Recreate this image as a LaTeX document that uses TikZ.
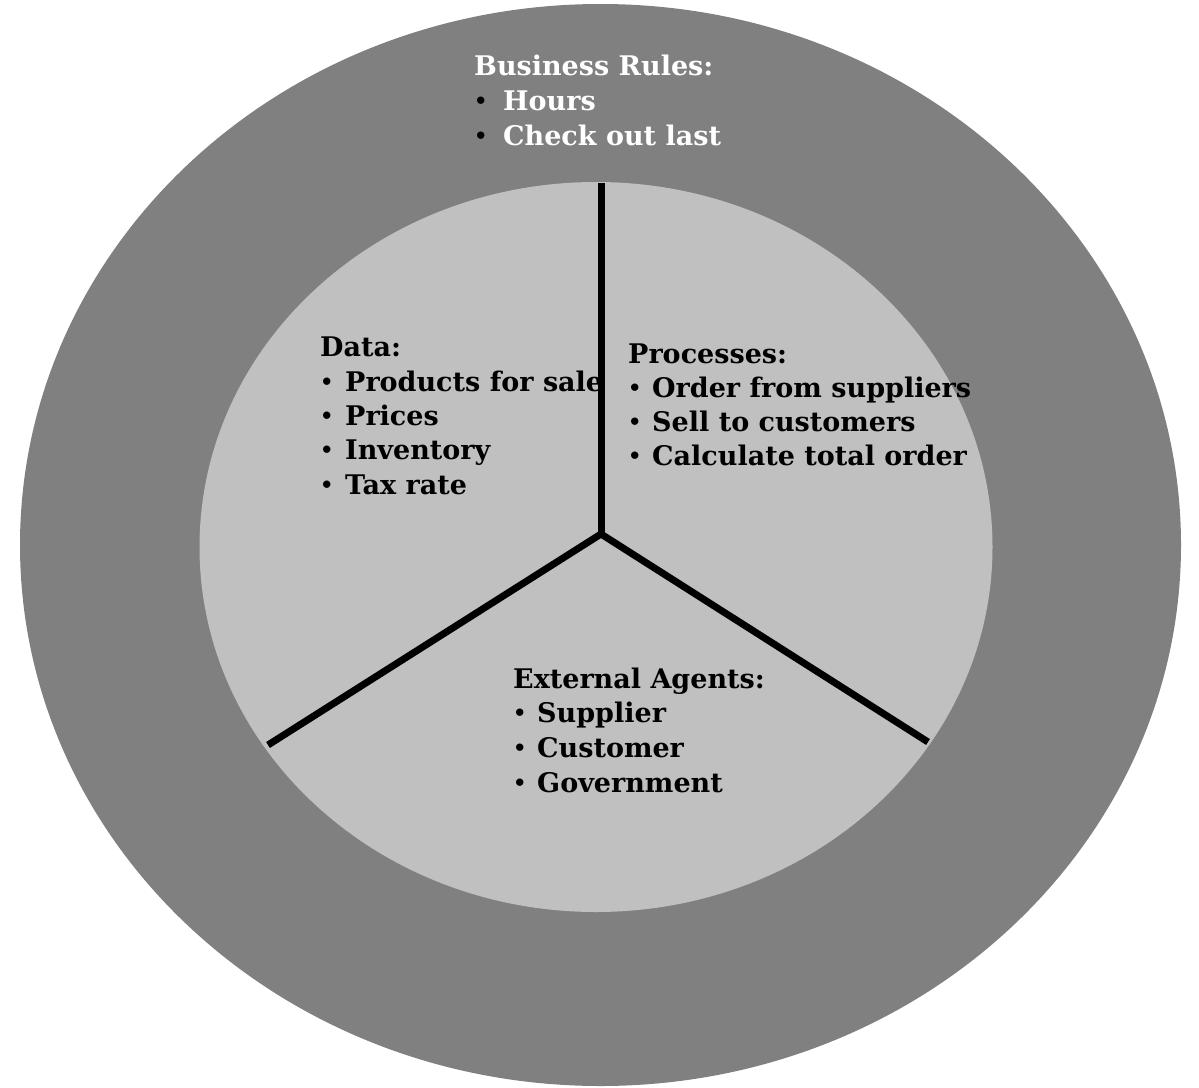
\documentclass[tikz,border=0pt]{standalone}
\usepackage{fontspec}
\setmainfont{DejaVu Serif}
\usetikzlibrary{shapes.geometric}
\definecolor{ringgrey}{HTML}{808080}
\definecolor{coregrey}{HTML}{C0C0C0}
\newcommand{\bitem}[2][25pt]{\makebox[#1][l]{\color{black}\raisebox{1.5pt}{\fontsize{21}{21}\selectfont •}}#2}
\tikzset{
  ring/.style={ellipse, fill=ringgrey, draw=none, inner sep=0pt},
  core/.style={ellipse, fill=coregrey, draw=none, inner sep=0pt},
  divider/.style={draw=black, line width=7pt, line cap=butt, line join=miter},
  lbl/.style={anchor=base west, inner sep=0pt, font=\fontsize{27}{32}\selectfont\bfseries},
  whitelbl/.style={lbl, text=white},
}
\begin{document}
\begin{tikzpicture}[x=1pt,y=-1pt]
\useasboundingbox (0,0) rectangle (1199,1087);
\fill[white] (0,0) rectangle (1199,1087);
\node[ring, minimum width=1161pt, minimum height=1082pt] (outer) at (600.5,545) {};
\node[core, minimum width=793pt, minimum height=730pt] (inner) at (596,547) {};
\coordinate (hub) at (601,534);
\coordinate (top) at (601,183);
\coordinate (left) at (268,745);
\coordinate (right) at (928,742);
\draw[divider] (top) -- (hub);
\draw[divider] (left) -- (hub) -- (right);
% Business rules
\node[whitelbl] (br0) at (474,75) {Business Rules:};
\node[whitelbl] (br1) at (474,110) {\bitem[29pt]{Hours}};
\node[whitelbl] (br2) at (474,145) {\bitem[29pt]{Check out last}};
% Data
\node[lbl] (d0) at (320,356) {Data:};
\node[lbl] (d1) at (320,391) {\bitem{Products for sale}};
\node[lbl] (d2) at (320,425) {\bitem{Prices}};
\node[lbl] (d3) at (320,459) {\bitem{Inventory}};
\node[lbl] (d4) at (320,494) {\bitem{Tax rate}};
% Processes
\node[lbl] (p0) at (628,363) {Processes:};
\node[lbl] (p1) at (628,397) {\bitem[24pt]{Order from suppliers}};
\node[lbl] (p2) at (628,431) {\bitem[24pt]{Sell to customers}};
\node[lbl] (p3) at (628,465) {\bitem[24pt]{Calculate total order}};
% External agents
\node[lbl] (e0) at (513,688) {External Agents:};
\node[lbl] (e1) at (513,722) {\bitem[24pt]{Supplier}};
\node[lbl] (e2) at (513,757) {\bitem[24pt]{Customer}};
\node[lbl] (e3) at (513,792) {\bitem[24pt]{Government}};
\end{tikzpicture}
\end{document}
